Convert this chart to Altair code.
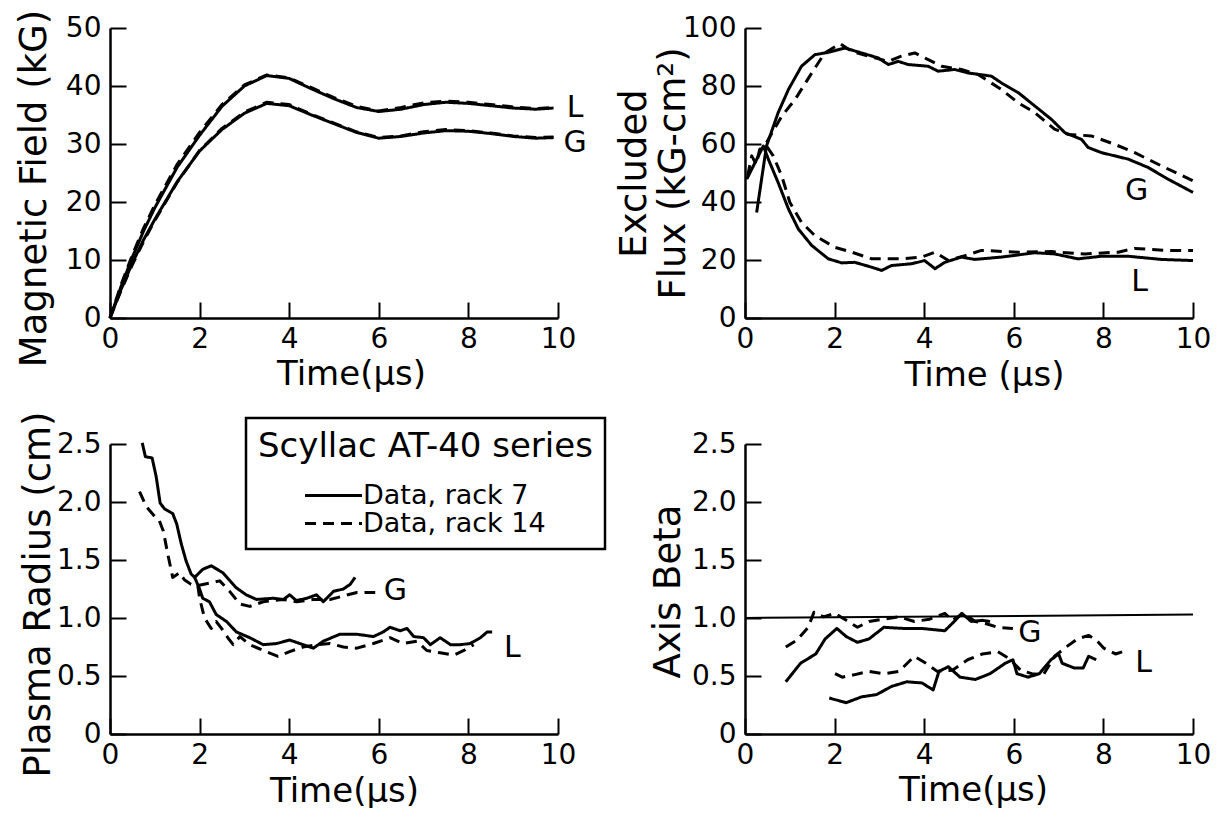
import altair as alt
import pandas as pd

FONT = "DejaVu Sans"
RACK7 = "Data, rack 7"
RACK14 = "Data, rack 14"
PANEL_W = 448
PANEL_H = 290
TICK_LEN = 16

time_ticks = [0, 2, 4, 6, 8, 10]

# ---------------- Panel 1 : Magnetic Field (kG) ----------------
mf_t = [0, 0.25, 0.5, 0.75, 1, 1.5, 2, 2.5, 3, 3.5, 4, 4.5, 5, 5.5, 6, 6.5, 7, 7.5, 8, 8.5, 9, 9.5, 9.9]
mf_L_r7 = [0, 5.5, 10.5, 15, 19, 26, 31.5, 36.5, 40, 41.8, 41.3, 39.5, 37.8, 36.3, 35.6, 36, 36.8, 37.2, 37, 36.6, 36.2, 36, 36.2]
mf_L_r14 = [0, 5.8, 10.9, 15.5, 19.5, 26.5, 32, 36.8, 40.2, 41.9, 41.4, 39.7, 38, 36.5, 35.7, 36.3, 37.1, 37.4, 37.2, 36.8, 36.4, 36.1, 36.3]
mf_G_r7 = [0, 5, 9.5, 13.5, 17, 23.5, 28.8, 32.5, 35.3, 37, 36.6, 35, 33.5, 32, 31, 31.3, 31.9, 32.3, 32.2, 31.8, 31.3, 31, 31.1]
mf_G_r14 = [0, 4.8, 9.2, 13.2, 16.8, 23.4, 28.9, 32.7, 35.5, 37.2, 36.8, 35.1, 33.6, 32.1, 31.1, 31.4, 32.1, 32.5, 32.3, 31.9, 31.4, 31.1, 31.2]
mf_y_ticks = [0, 10, 20, 30, 40, 50]
mf_lab = ["L", "G"]
mf_lab_t = [10.38, 10.38]
mf_lab_v = [36.2, 30.2]

# ---------------- Panel 2 : Excluded Flux ----------------
fx_G_r7_t = [0.26, 0.48, 0.74, 0.97, 1.26, 1.56, 1.86, 2.23, 2.6, 2.97, 3.2, 3.42, 3.64, 4.09, 4.31, 4.68, 4.98, 5.5, 5.72, 6.1, 6.47, 6.84, 7.14, 7.51, 7.66, 7.96, 8.55, 9.0, 9.44, 10.0]
fx_G_r7 = [36.4, 59.3, 70.8, 78.8, 86.8, 90.8, 91.6, 93.1, 91.4, 89.7, 87.4, 88.5, 87.4, 86.8, 85.1, 85.7, 84.5, 83.4, 81.1, 77.7, 73.1, 68.5, 63.9, 61.6, 58.8, 57.0, 54.8, 51.9, 47.9, 43.3]
fx_G_r14_t = [0.48, 0.82, 1.12, 1.49, 1.78, 2.12, 2.38, 2.75, 3.2, 3.49, 3.79, 4.09, 4.39, 4.83, 5.2, 5.72, 6.1, 6.47, 6.91, 7.21, 7.73, 8.25, 8.7, 9.29, 10.0]
fx_G_r14 = [60.5, 69.6, 75.4, 84.5, 91.4, 94.6, 92.0, 90.3, 88.5, 90.3, 91.4, 89.1, 86.8, 85.7, 84.0, 78.8, 74.2, 70.8, 65.1, 63.3, 62.8, 59.9, 57.0, 52.5, 47.3]
fx_L_r7_t = [0.04, 0.41, 0.52, 0.74, 0.97, 1.19, 1.49, 1.86, 2.16, 2.45, 2.83, 3.05, 3.27, 3.72, 4.01, 4.24, 4.46, 4.83, 5.13, 5.72, 6.47, 6.91, 7.43, 7.96, 8.55, 9.29, 10.0]
fx_L_r7 = [47.9, 59.3, 54.8, 46.7, 37.6, 30.7, 25.0, 20.4, 19.0, 19.2, 17.5, 16.4, 18.1, 18.7, 19.8, 17.0, 19.2, 21.0, 20.2, 21.0, 22.5, 22.1, 20.4, 21.3, 21.3, 20.2, 19.8]
fx_L_r14_t = [0.06, 0.15, 0.25, 0.33, 0.48, 0.63, 0.82, 1.0, 1.26, 1.56, 2.0, 2.38, 2.83, 3.49, 3.94, 4.24, 4.54, 4.91, 5.28, 6.1, 6.84, 7.58, 8.33, 8.7, 9.44, 10.0]
fx_L_r14 = [49.0, 55.9, 53.0, 58.2, 59.3, 55.9, 49.0, 39.9, 33.0, 28.4, 24.4, 22.7, 20.4, 20.4, 21.0, 22.7, 19.8, 21.5, 23.3, 22.7, 22.9, 22.1, 22.7, 24.0, 23.3, 23.3]
fx_y_ticks = [0, 20, 40, 60, 80, 100]
fx_lab = ["G", "L"]
fx_lab_t = [8.74, 8.81]
fx_lab_v = [43.9, 12.4]

# ---------------- Panel 3 : Plasma Radius (cm) ----------------
pr_G_r7_t = [0.72, 0.79, 0.94, 1.03, 1.12, 1.22, 1.4, 1.49, 1.59, 1.7, 1.81, 1.89, 2.07, 2.26, 2.52, 2.82, 3.04, 3.27, 3.64, 3.87, 4.01, 4.16, 4.39, 4.61, 4.76, 4.99, 5.21, 5.36, 5.47]
pr_G_r7 = [2.51, 2.39, 2.38, 2.22, 1.99, 1.94, 1.9, 1.81, 1.64, 1.49, 1.38, 1.35, 1.42, 1.45, 1.39, 1.26, 1.2, 1.16, 1.17, 1.16, 1.2, 1.15, 1.17, 1.2, 1.14, 1.23, 1.25, 1.29, 1.35]
pr_L_r7_t = [1.89, 2.0, 2.07, 2.22, 2.37, 2.6, 2.82, 3.12, 3.42, 3.72, 4.01, 4.31, 4.54, 4.76, 5.13, 5.51, 5.88, 6.1, 6.25, 6.48, 6.63, 6.78, 7.0, 7.15, 7.37, 7.6, 7.82, 8.04, 8.27, 8.42, 8.53]
pr_L_r7 = [1.35, 1.25, 1.17, 1.14, 1.03, 0.97, 0.88, 0.83, 0.77, 0.78, 0.81, 0.77, 0.74, 0.8, 0.86, 0.86, 0.84, 0.88, 0.92, 0.89, 0.91, 0.84, 0.83, 0.77, 0.83, 0.77, 0.77, 0.78, 0.83, 0.88, 0.88]
pr_G_r14_t = [0.66, 0.81, 0.99, 1.1, 1.19, 1.29, 1.4, 1.55, 1.66, 1.81, 1.96, 2.22, 2.45, 2.67, 2.9, 3.12, 3.42, 3.87, 4.16, 4.54, 4.91, 5.21, 5.51, 5.92]
pr_G_r14 = [2.09, 1.96, 1.88, 1.84, 1.75, 1.55, 1.35, 1.39, 1.33, 1.29, 1.28, 1.3, 1.32, 1.23, 1.12, 1.1, 1.14, 1.16, 1.14, 1.16, 1.16, 1.19, 1.22, 1.22]
pr_L_r14_t = [1.96, 2.0, 2.11, 2.26, 2.37, 2.49, 2.63, 2.75, 2.9, 3.12, 3.42, 3.75, 4.01, 4.31, 4.61, 4.91, 5.21, 5.51, 5.88, 6.25, 6.55, 6.85, 7.07, 7.37, 7.67, 7.9, 8.12]
pr_L_r14 = [1.28, 1.17, 1.0, 0.91, 0.97, 0.91, 0.83, 0.77, 0.84, 0.77, 0.72, 0.67, 0.71, 0.75, 0.77, 0.78, 0.75, 0.74, 0.78, 0.83, 0.78, 0.8, 0.72, 0.7, 0.68, 0.72, 0.77]
pr_y_ticks = [0, 0.5, 1.0, 1.5, 2.0, 2.5]
pr_lab = ["G", "L"]
pr_lab_t = [6.37, 8.98]
pr_lab_v = [1.23, 0.74]

# ---------------- Panel 4 : Axis Beta ----------------
ab_G_r14_t = [0.91, 1.16, 1.41, 1.54, 1.75, 2.01, 2.26, 2.51, 2.77, 3.1, 3.44, 3.78, 4.12, 4.46, 4.63, 4.88, 5.14, 5.39, 5.64, 5.98]
ab_G_r14 = [0.75, 0.81, 0.92, 1.05, 1.01, 1.04, 0.98, 0.92, 0.97, 0.99, 1.01, 0.97, 0.99, 1.04, 0.98, 1.04, 0.97, 0.95, 0.92, 0.91]
ab_G_r7_t = [0.91, 1.24, 1.58, 1.79, 2.05, 2.26, 2.51, 2.77, 3.1, 3.53, 3.95, 4.46, 4.67, 4.84, 5.05, 5.3, 5.47]
ab_G_r7 = [0.45, 0.61, 0.69, 0.82, 0.91, 0.84, 0.79, 0.82, 0.92, 0.91, 0.91, 0.89, 0.97, 1.04, 0.97, 0.98, 0.97]
ab_L_r14_t = [2.01, 2.17, 2.43, 2.77, 3.1, 3.44, 3.78, 4.04, 4.29, 4.63, 4.97, 5.3, 5.64, 5.9, 6.15, 6.4, 6.66, 6.91, 7.17, 7.42, 7.67, 7.84, 8.01, 8.27, 8.52]
ab_L_r14 = [0.52, 0.49, 0.51, 0.54, 0.52, 0.54, 0.67, 0.61, 0.54, 0.55, 0.64, 0.69, 0.71, 0.65, 0.55, 0.52, 0.51, 0.67, 0.75, 0.82, 0.85, 0.81, 0.74, 0.69, 0.72]
ab_L_r7_t = [1.88, 2.26, 2.6, 2.94, 3.27, 3.61, 3.95, 4.2, 4.33, 4.54, 4.8, 5.14, 5.47, 5.81, 5.98, 6.07, 6.32, 6.57, 6.83, 7.0, 7.08, 7.34, 7.55, 7.67, 7.84]
ab_L_r7 = [0.31, 0.27, 0.32, 0.34, 0.41, 0.45, 0.44, 0.38, 0.54, 0.58, 0.49, 0.47, 0.52, 0.61, 0.64, 0.52, 0.49, 0.52, 0.64, 0.69, 0.61, 0.57, 0.57, 0.67, 0.64]
ab_ref_t = [0, 10]
ab_ref_v = [1.0, 1.03]
ab_y_ticks = [0, 0.5, 1.0, 1.5, 2.0, 2.5]
ab_lab = ["G", "L"]
ab_lab_t = [6.36, 8.9]
ab_lab_v = [0.87, 0.61]


def lines_df(series):
    rows = []
    for ts, vs, curve, rack in series:
        for t, v in zip(ts, vs):
            rows.append({"t": t, "v": v, "curve": curve + "|" + rack, "rack": rack})
    return pd.DataFrame(rows)


def axis_common():
    # ticks point into the plot: the tick length is given as an expression so that
    # a negative length (inward) can be used; labels are pushed back out by the padding
    return dict(
        ticks=True, tickSize=alt.ExprRef(expr=str(-TICK_LEN)), tickWidth=2,
        tickColor="black", grid=False, domain=True, domainColor="black", domainWidth=2.5,
        labelFont=FONT, labelFontSize=28, labelColor="black", labelFlush=False,
        labelOverlap=False, titleFont=FONT, titleFontWeight="normal",
        titleColor="black", titleBaseline="alphabetic", titleAlign="center",
    )


def panel(df, ydom, yvals, ytitle, ytx, yty, xtitle, xtx, xty, labs, labt, labv,
          legend=None, extra=None, ylabel_expr=None, title_line_height=None):
    xscale = alt.Scale(domain=[0, 10], nice=False)
    yscale = alt.Scale(domain=ydom, nice=False)
    x_enc = alt.X("t:Q", scale=xscale,
                  axis=alt.Axis(values=time_ticks, title=xtitle, titleX=xtx, titleY=xty,
                                titleFontSize=34, labelPadding=TICK_LEN + 7, **axis_common()))
    yax = dict(values=yvals, title=ytitle, titleX=ytx, titleY=yty, titleFontSize=37,
               labelPadding=TICK_LEN + 9, **axis_common())
    if ylabel_expr:
        yax["labelExpr"] = ylabel_expr
    if title_line_height:
        yax["titleLineHeight"] = title_line_height
    y_enc = alt.Y("v:Q", scale=yscale, axis=alt.Axis(**yax))

    dash_kw = dict(scale=alt.Scale(domain=[RACK7, RACK14], range=[[1, 0], [11, 7]]))
    dash_kw["legend"] = legend

    lines = alt.Chart(df).mark_line(color="black", strokeWidth=3, strokeJoin="round").encode(
        x=x_enc, y=y_enc, detail="curve:N", strokeDash=alt.StrokeDash("rack:N", **dash_kw)
    )
    text = alt.Chart(pd.DataFrame({"t": labt, "v": labv, "lab": labs})).mark_text(
        font=FONT, fontSize=30, color="black", align="center", baseline="middle"
    ).encode(x=x_enc, y=y_enc, text="lab:N")
    layers = [lines, text]
    if extra is not None:
        layers.append(extra(x_enc, y_enc))
    return alt.layer(*layers).properties(width=PANEL_W, height=PANEL_H)


p1 = panel(
    lines_df([(mf_t, mf_L_r7, "L", RACK7), (mf_t, mf_L_r14, "L", RACK14),
              (mf_t, mf_G_r7, "G", RACK7), (mf_t, mf_G_r14, "G", RACK14)]),
    [0, 50], mf_y_ticks, "Magnetic Field (kG)", -65, 160,
    "Time(\u03bcs)", 241, 66, mf_lab, mf_lab_t, mf_lab_v,
)

p2 = panel(
    lines_df([(fx_G_r7_t, fx_G_r7, "G", RACK7), (fx_G_r14_t, fx_G_r14, "G", RACK14),
              (fx_L_r7_t, fx_L_r7, "L", RACK7), (fx_L_r14_t, fx_L_r14, "L", RACK14)]),
    [0, 100], fx_y_ticks, ["Excluded", "Flux (kG-cm\u00b2)"], -100, 145,
    "Time (\u03bcs)", 239, 67, fx_lab, fx_lab_t, fx_lab_v, title_line_height=39,
)

legend3 = alt.Legend(
    title="Scyllac AT-40 series", orient="none", legendX=136, legendY=-26,
    symbolType="M-3,0H3", symbolSize=361, symbolStrokeWidth=3, symbolStrokeColor="black",
    symbolFillColor="transparent", symbolOffset=62, labelOffset=16,
    labelFont=FONT, labelFontSize=27, labelColor="black", labelLimit=400,
    titleFont=FONT, titleFontSize=34, titleFontWeight="normal", titleColor="black",
    titleLimit=800, titlePadding=18, padding=12, rowPadding=0,
    strokeColor="black", fillColor="white", direction="vertical",
)

BETA_EXPR = "datum.value == 0 ? '0' : format(datum.value, '.1f')"

p3 = panel(
    lines_df([(pr_G_r7_t, pr_G_r7, "G", RACK7), (pr_L_r7_t, pr_L_r7, "L", RACK7),
              (pr_G_r14_t, pr_G_r14, "G", RACK14), (pr_L_r14_t, pr_L_r14, "L", RACK14)]),
    [0, 2.5], pr_y_ticks, "Plasma Radius (cm)", -61, 150,
    "Time(\u03bcs)", 234, 67, pr_lab, pr_lab_t, pr_lab_v,
    legend=legend3, ylabel_expr=BETA_EXPR,
)


def beta_ref(x_enc, y_enc):
    return alt.Chart(pd.DataFrame({"t": ab_ref_t, "v": ab_ref_v})).mark_line(
        color="black", strokeWidth=2
    ).encode(x=x_enc, y=y_enc)


p4 = panel(
    lines_df([(ab_G_r14_t, ab_G_r14, "G", RACK14), (ab_G_r7_t, ab_G_r7, "G", RACK7),
              (ab_L_r14_t, ab_L_r14, "L", RACK14), (ab_L_r7_t, ab_L_r7, "L", RACK7)]),
    [0, 2.5], ab_y_ticks, "Axis Beta", -66, 147,
    "Time(\u03bcs)", 228, 66, ab_lab, ab_lab_t, ab_lab_v,
    extra=beta_ref, ylabel_expr=BETA_EXPR,
)

chart = (
    alt.concat(p1, p2, p3, p4, columns=2, spacing={"row": 126, "column": 187}, bounds="flush")
    .resolve_scale(strokeDash="independent")
    .properties(padding={"left": 14, "top": 9, "right": 0, "bottom": 0})
    .configure(background="white")
    .configure_view(stroke=None)
    .configure_legend(strokeWidth=2.5)
)

chart.save("out.html", embed_options={"renderer": "svg", "actions": False})
